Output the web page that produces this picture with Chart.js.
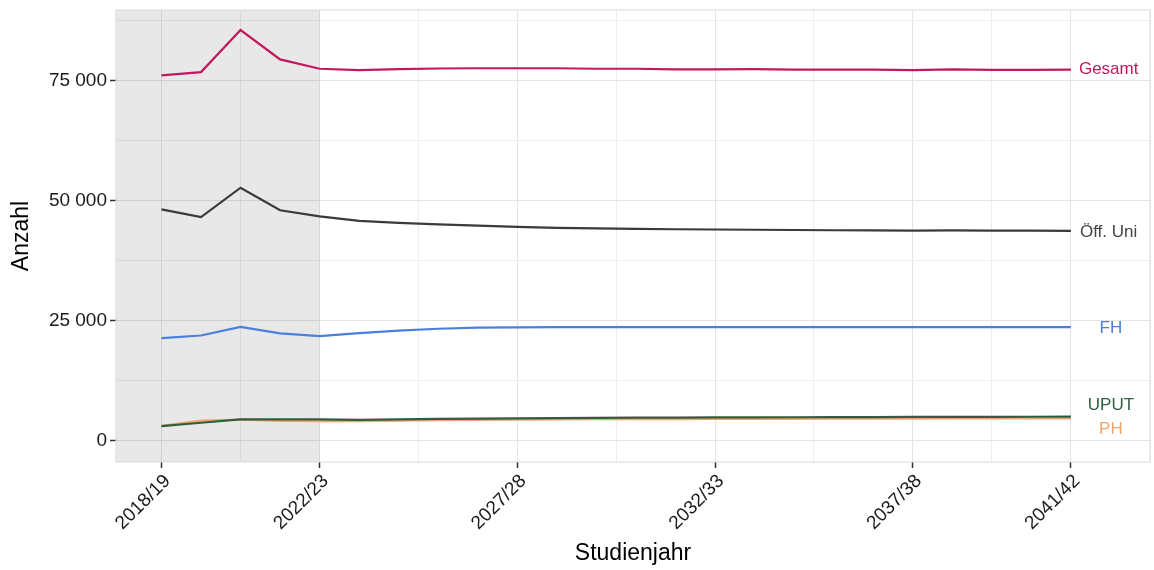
<!DOCTYPE html>
<html>
<head>
<meta charset="utf-8">
<title>Studierende nach Hochschultyp</title>
<script src="https://cdn.jsdelivr.net/npm/chart.js@4/dist/chart.umd.min.js"></script>
<style>
  html, body { margin:0; padding:0; background:#fff; }
  #wrap { width:1154px; height:570px; }
</style>
</head>
<body>
<div id="wrap"><canvas id="chart" width="1154" height="570"></canvas></div>
<script>
// Daten
const years = [2018,2019,2020,2021,2022,2023,2024,2025,2026,2027,2028,2029,
               2030,2031,2032,2033,2034,2035,2036,2037,2038,2039,2040,2041];
const gesamt = [76050,76750,85500,79400,77450,77150,77350,77500,77550,77550,77550,77450,
                77450,77300,77300,77350,77250,77250,77250,77150,77300,77200,77200,77250];
const oeffUni = [48200,46600,52700,48000,46750,45800,45400,45050,44800,44550,44350,44250,
                 44150,44050,44000,43950,43900,43850,43800,43750,43800,43750,43750,43700];
const fh = [21400,21950,23750,22400,21800,22450,22950,23350,23600,23650,23700,23700,
            23700,23700,23700,23700,23700,23700,23700,23700,23700,23700,23700,23700];
const uput = [3100,3800,4500,4500,4500,4400,4500,4600,4650,4700,4750,4800,
              4850,4880,4900,4920,4940,4960,4980,5000,5010,5020,5040,5050];
const ph = [3150,4250,4450,4200,4150,4150,4250,4350,4400,4450,4500,4520,
            4550,4570,4590,4600,4620,4640,4650,4660,4680,4690,4700,4720];

const xMajor = [2018, 2022, 2027, 2032, 2037, 2041];
const xMinor = [2020, 2024.5, 2029.5, 2034.5, 2039, 2043];
const yMajor = [0, 25000, 50000, 75000];
const yMinor = [12500, 37500, 62500, 87500];
const shadeEnd = 2022;   // Ist-Werte bis 2022/23

// Stil
const FONT = '"Liberation Sans", Arial, Helvetica, sans-serif';
const series = [
  { label:'Gesamt',    data:gesamt,  color:'#C2185B', text:'#C2185B', dx:8,  dy:0,   align:'left' },
  { label:'Öff. Uni',  data:oeffUni, color:'#3D3935', text:'#444444', dx:9,  dy:1,   align:'left' },
  { label:'FH',        data:fh,      color:'#4A80DC', text:'#4A80DC', dx:40, dy:1,   align:'center' },
  { label:'PH',        data:ph,      color:'#F2A46C', text:'#F2A46C', dx:40, dy:11,  align:'center' },
  { label:'UPUT',      data:uput,    color:'#2F5D3F', text:'#2F5D3F', dx:40, dy:-11, align:'center' }
];

// Helpers
const yearLabel = (y)=> `${y}/${String((y+1)%100).padStart(2,'0')}`;
const thousand = (n)=> String(n).replace(/\B(?=(\d{3})+(?!\d))/g, ' ');
const isMajor = (list, v)=> list.some(m => Math.abs(m - v) < 1e-6);

// Hintergrund-Schattierung + Rahmen + Endlabels
const panelPlugin = {
  id: 'panel',
  beforeDatasetsDraw(chart){
    const {ctx, chartArea:a, scales} = chart;
    const xe = scales.x.getPixelForValue(shadeEnd);
    ctx.save();
    ctx.fillStyle = 'rgba(0,0,0,0.09)';
    ctx.fillRect(a.left, a.top, xe - a.left, a.bottom - a.top);
    ctx.restore();
  },
  afterDatasetsDraw(chart){
    const {ctx, chartArea:a, scales} = chart;
    ctx.save();
    ctx.strokeStyle = '#D9D9D9';
    ctx.lineWidth = 1;
    ctx.strokeRect(a.left, a.top, a.right - a.left, a.bottom - a.top);
    ctx.font = `17px ${FONT}`;
    ctx.textBaseline = 'middle';
    series.forEach(s => {
      const last = s.data.length - 1;
      const x = scales.x.getPixelForValue(years[last]) + s.dx;
      const y = scales.y.getPixelForValue(s.data[last]) + s.dy;
      ctx.fillStyle = s.text;
      ctx.textAlign = s.align;
      ctx.fillText(s.label, x, y);
    });
    ctx.restore();
  }
};

new Chart(document.getElementById('chart'), {
  type: 'line',
  data: {
    datasets: series.map((s, i) => ({
      label: s.label,
      data: years.map((y, k) => ({ x: y, y: s.data[k] })),
      borderColor: s.color,
      backgroundColor: s.color,
      borderWidth: 2.2,
      pointRadius: 0,
      tension: 0,
      order: series.length - i
    }))
  },
  options: {
    responsive: false,
    animation: false,
    layout: { padding: { top: 10, right: 4, left: 0, bottom: 0 } },
    plugins: { legend: { display: false }, tooltip: { enabled: false } },
    scales: {
      x: {
        type: 'linear',
        min: 2016.85, max: 2043.0,
        afterBuildTicks: (sc) => {
          sc.ticks = [...xMajor, ...xMinor].sort((a,b)=>a-b).map(v => ({ value: v }));
        },
        afterFit: (sc) => { sc.height = 108; sc.paddingLeft = 0; sc.paddingRight = 0; },
        grid: {
          color: (c) => isMajor(xMajor, c.tick.value) ? '#E4E4E4' : '#EEEEEE',
          lineWidth: 1,
          tickLength: 6,
          tickWidth: 1.5,
          tickColor: (c) => isMajor(xMajor, c.tick.value) ? '#333333' : 'rgba(0,0,0,0)'
        },
        border: { display: false },
        ticks: {
          autoSkip: false,
          minRotation: 45, maxRotation: 45,
          padding: 2,
          labelOffset: 6,
          color: '#1A1A1A',
          font: { family: FONT, size: 19 },
          callback: (v) => isMajor(xMajor, v) ? yearLabel(v) : ''
        },
        title: {
          display: true, text: 'Studienjahr', color: '#000',
          font: { family: FONT, size: 23 },
          padding: { top: 0, bottom: 3 }
        }
      },
      y: {
        min: -4370, max: 89670,
        afterBuildTicks: (sc) => {
          sc.ticks = [...yMajor, ...yMinor].sort((a,b)=>a-b).map(v => ({ value: v }));
        },
        afterFit: (sc) => { sc.width = 116; sc.paddingTop = 0; sc.paddingBottom = 0; },
        grid: {
          color: (c) => isMajor(yMajor, c.tick.value) ? '#E4E4E4' : '#EEEEEE',
          lineWidth: 1,
          tickLength: 6,
          tickWidth: 1.5,
          tickColor: (c) => isMajor(yMajor, c.tick.value) ? '#333333' : 'rgba(0,0,0,0)'
        },
        border: { display: false },
        ticks: {
          padding: 3,
          color: '#1A1A1A',
          font: { family: FONT, size: 19 },
          callback: (v) => isMajor(yMajor, v) ? thousand(v) : ''
        },
        title: {
          display: true, text: 'Anzahl', color: '#000',
          font: { family: FONT, size: 23 },
          padding: { top: 8, bottom: 0 }
        }
      }
    }
  },
  plugins: [panelPlugin]
});
</script>
</body>
</html>
